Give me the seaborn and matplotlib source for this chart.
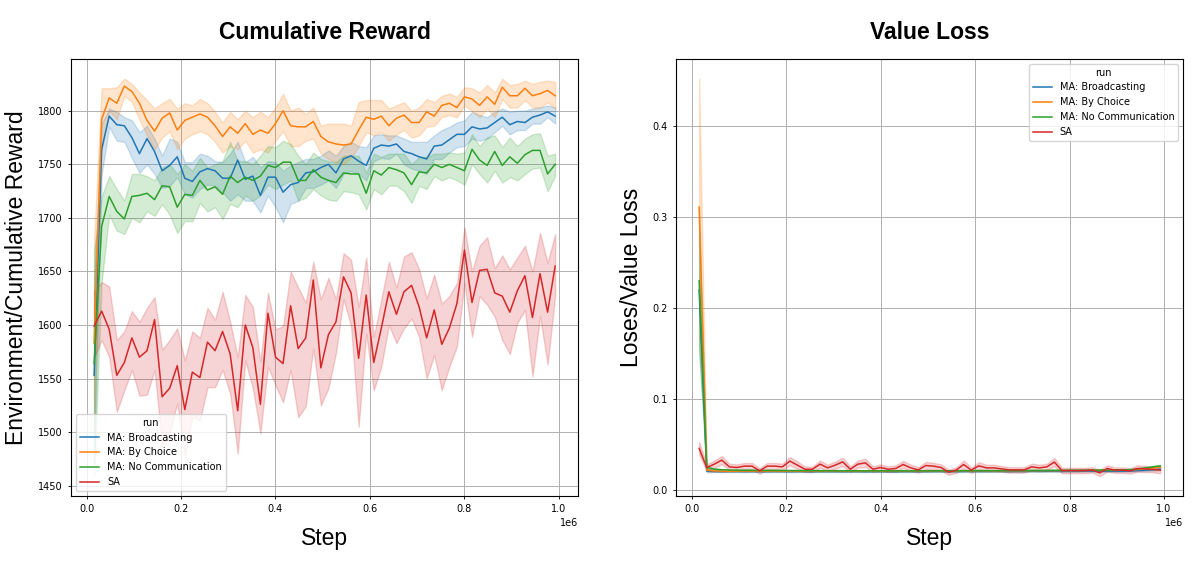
"""
Cumulative reward and value loss of the four runs,
mean line with its band, drawn with seaborn lineplot.
"""
# Import libraries
import numpy as np
import pandas as pd
import matplotlib
matplotlib.use('Agg')
import matplotlib.pyplot as plt
import seaborn as sns

# Training steps (one logged point every 16k steps)
steps = np.arange(16000, 992001, 16000)

runs = ['MA: Broadcasting', 'MA: By Choice', 'MA: No Communication', 'SA']

# ---------------- Cumulative reward: line, lower and upper band edge
bc_reward = [1553, 1764, 1795, 1787, 1786, 1775, 1760, 1774, 1762, 1744,
             1749, 1757, 1737, 1734, 1743, 1746, 1744, 1737, 1737, 1754,
             1736, 1739, 1721, 1738, 1738, 1724, 1731, 1733, 1742, 1743,
             1747, 1750, 1742, 1755, 1758, 1753, 1749, 1765, 1768, 1767,
             1769, 1762, 1760, 1757, 1755, 1767, 1768, 1773, 1778, 1778,
             1785, 1783, 1784, 1789, 1794, 1787, 1790, 1789, 1794, 1796,
             1799, 1795]
bc_reward_lo = [1470, 1741, 1785, 1772, 1771, 1756, 1742, 1750, 1741, 1728,
                1730, 1738, 1722, 1719, 1727, 1731, 1730, 1724, 1716, 1722,
                1716, 1716, 1705, 1721, 1710, 1696, 1713, 1716, 1728, 1728,
                1731, 1735, 1728, 1741, 1744, 1741, 1735, 1753, 1756, 1755,
                1760, 1750, 1746, 1744, 1741, 1755, 1755, 1761, 1766, 1767,
                1774, 1772, 1774, 1780, 1786, 1778, 1782, 1782, 1788, 1788,
                1794, 1788]
bc_reward_hi = [1640, 1788, 1802, 1799, 1794, 1791, 1780, 1786, 1774, 1758,
                1774, 1771, 1752, 1752, 1760, 1758, 1753, 1752, 1760, 1771,
                1752, 1757, 1747, 1753, 1752, 1744, 1749, 1752, 1755, 1755,
                1758, 1763, 1758, 1767, 1771, 1767, 1766, 1777, 1778, 1777,
                1777, 1774, 1771, 1771, 1771, 1777, 1782, 1785, 1789, 1791,
                1799, 1796, 1794, 1799, 1802, 1799, 1800, 1800, 1802, 1803,
                1805, 1803]

ch_reward = [1583, 1792, 1812, 1807, 1823, 1818, 1807, 1791, 1781, 1793,
             1798, 1782, 1791, 1794, 1797, 1794, 1786, 1776, 1785, 1779,
             1788, 1778, 1782, 1779, 1788, 1800, 1786, 1785, 1785, 1790,
             1776, 1771, 1769, 1768, 1769, 1782, 1794, 1792, 1795, 1786,
             1793, 1796, 1789, 1789, 1799, 1795, 1805, 1807, 1803, 1813,
             1811, 1805, 1813, 1806, 1822, 1814, 1814, 1821, 1814, 1816,
             1819, 1814]
ch_reward_lo = [1500, 1763, 1800, 1792, 1814, 1808, 1792, 1777, 1764, 1775,
                1781, 1764, 1774, 1778, 1781, 1778, 1771, 1761, 1767, 1764,
                1772, 1761, 1764, 1761, 1772, 1781, 1767, 1767, 1772, 1774,
                1760, 1755, 1752, 1750, 1756, 1767, 1780, 1777, 1780, 1772,
                1778, 1782, 1775, 1777, 1785, 1786, 1794, 1796, 1794, 1805,
                1800, 1794, 1802, 1794, 1811, 1803, 1803, 1810, 1803, 1803,
                1808, 1802]
ch_reward_hi = [1680, 1821, 1821, 1822, 1830, 1825, 1817, 1810, 1802, 1807,
                1811, 1802, 1807, 1805, 1811, 1807, 1799, 1789, 1799, 1792,
                1800, 1794, 1799, 1794, 1803, 1816, 1800, 1803, 1797, 1803,
                1786, 1788, 1788, 1788, 1786, 1808, 1810, 1810, 1810, 1802,
                1805, 1808, 1800, 1803, 1811, 1808, 1814, 1816, 1813, 1822,
                1821, 1817, 1824, 1817, 1830, 1824, 1825, 1828, 1825, 1827,
                1828, 1827]

nc_reward = [1564, 1692, 1720, 1706, 1699, 1720, 1721, 1723, 1717, 1730,
             1729, 1710, 1722, 1721, 1735, 1726, 1729, 1722, 1739, 1733,
             1738, 1735, 1739, 1749, 1747, 1752, 1752, 1735, 1735, 1745,
             1738, 1735, 1733, 1742, 1741, 1741, 1723, 1744, 1740, 1747,
             1745, 1742, 1731, 1743, 1742, 1750, 1747, 1750, 1747, 1744,
             1764, 1754, 1749, 1762, 1749, 1757, 1751, 1759, 1763, 1763,
             1741, 1750]
nc_reward_lo = [1459, 1640, 1703, 1688, 1685, 1700, 1696, 1706, 1702, 1713,
                1703, 1686, 1697, 1697, 1714, 1706, 1710, 1699, 1713, 1710,
                1721, 1716, 1721, 1731, 1727, 1731, 1735, 1716, 1719, 1727,
                1721, 1717, 1716, 1725, 1724, 1722, 1708, 1727, 1722, 1730,
                1730, 1725, 1714, 1730, 1727, 1739, 1735, 1738, 1735, 1731,
                1750, 1741, 1733, 1744, 1733, 1738, 1735, 1741, 1746, 1747,
                1725, 1739]
nc_reward_hi = [1670, 1720, 1739, 1727, 1716, 1741, 1741, 1739, 1735, 1747,
                1750, 1741, 1750, 1744, 1756, 1747, 1750, 1753, 1771, 1753,
                1753, 1750, 1758, 1767, 1766, 1772, 1769, 1758, 1750, 1761,
                1755, 1753, 1752, 1758, 1758, 1758, 1742, 1760, 1757, 1760,
                1760, 1760, 1750, 1757, 1757, 1760, 1760, 1761, 1760, 1761,
                1778, 1767, 1775, 1777, 1766, 1775, 1767, 1774, 1778, 1779,
                1758, 1760]

sa_reward = [1599, 1613, 1596, 1553, 1565, 1588, 1570, 1576, 1605, 1533,
             1541, 1562, 1521, 1556, 1551, 1584, 1576, 1594, 1573, 1520,
             1600, 1579, 1526, 1611, 1570, 1564, 1618, 1578, 1588, 1642,
             1560, 1591, 1603, 1645, 1630, 1569, 1628, 1565, 1597, 1631,
             1610, 1631, 1637, 1617, 1588, 1614, 1582, 1597, 1620, 1670,
             1621, 1651, 1652, 1630, 1627, 1612, 1632, 1646, 1607, 1648,
             1612, 1655]
sa_reward_lo = [1570, 1586, 1570, 1519, 1539, 1558, 1534, 1535, 1558, 1488,
                1499, 1527, 1477, 1514, 1511, 1542, 1542, 1558, 1536, 1480,
                1567, 1541, 1499, 1561, 1544, 1528, 1558, 1514, 1524, 1578,
                1525, 1541, 1574, 1624, 1599, 1505, 1592, 1539, 1561, 1600,
                1583, 1597, 1606, 1589, 1550, 1572, 1539, 1561, 1580, 1639,
                1589, 1627, 1619, 1608, 1586, 1573, 1602, 1614, 1552, 1608,
                1563, 1627]
sa_reward_hi = [1632, 1640, 1636, 1586, 1594, 1613, 1603, 1616, 1626, 1577,
                1586, 1597, 1567, 1594, 1588, 1616, 1605, 1631, 1603, 1570,
                1628, 1617, 1566, 1630, 1596, 1599, 1650, 1635, 1621, 1659,
                1624, 1644, 1624, 1667, 1661, 1617, 1663, 1589, 1624, 1659,
                1635, 1664, 1668, 1652, 1625, 1647, 1620, 1627, 1639, 1691,
                1650, 1674, 1682, 1653, 1665, 1652, 1663, 1674, 1650, 1686,
                1658, 1685]

# ---------------- Value loss: line and half width of the band
bc_loss = [0.220, 0.0210, 0.0205, 0.0204, 0.0205, 0.0205, 0.0204, 0.0205, 0.0205, 0.0204,
           0.0205, 0.0205, 0.0204, 0.0205, 0.0205, 0.0204, 0.0205, 0.0205, 0.0205, 0.0204,
           0.0205, 0.0205, 0.0204, 0.0205, 0.0205, 0.0205, 0.0204, 0.0205, 0.0205, 0.0205,
           0.0205, 0.0206, 0.0206, 0.0205, 0.0206, 0.0206, 0.0207, 0.0206, 0.0206, 0.0207,
           0.0207, 0.0206, 0.0207, 0.0207, 0.0208, 0.0207, 0.0208, 0.0208, 0.0207, 0.0208,
           0.0208, 0.0209, 0.0209, 0.0208, 0.0209, 0.0210, 0.0210, 0.0212, 0.0216, 0.0220,
           0.0225, 0.0230]
bc_loss_sd = [0.065, 0.0012, 0.0006, 0.0005, 0.0005, 0.0005, 0.0005, 0.0005, 0.0005, 0.0005,
              0.0005, 0.0005, 0.0005, 0.0005, 0.0005, 0.0005, 0.0005, 0.0005, 0.0005, 0.0005,
              0.0005, 0.0005, 0.0005, 0.0005, 0.0005, 0.0005, 0.0005, 0.0005, 0.0005, 0.0005,
              0.0005, 0.0005, 0.0005, 0.0005, 0.0005, 0.0005, 0.0005, 0.0005, 0.0005, 0.0005,
              0.0005, 0.0005, 0.0005, 0.0005, 0.0005, 0.0005, 0.0005, 0.0005, 0.0005, 0.0005,
              0.0005, 0.0005, 0.0005, 0.0006, 0.0006, 0.0006, 0.0007, 0.0007, 0.0008, 0.0008,
              0.0009, 0.0010]

ch_loss = [0.311, 0.0220, 0.0212, 0.0210, 0.0208, 0.0210, 0.0211, 0.0210, 0.0211, 0.0210,
           0.0211, 0.0210, 0.0211, 0.0210, 0.0211, 0.0212, 0.0211, 0.0211, 0.0212, 0.0211,
           0.0212, 0.0211, 0.0212, 0.0212, 0.0211, 0.0212, 0.0212, 0.0213, 0.0212, 0.0213,
           0.0212, 0.0213, 0.0213, 0.0212, 0.0213, 0.0214, 0.0213, 0.0214, 0.0214, 0.0213,
           0.0214, 0.0214, 0.0215, 0.0214, 0.0215, 0.0215, 0.0216, 0.0215, 0.0216, 0.0216,
           0.0217, 0.0217, 0.0218, 0.0218, 0.0219, 0.0219, 0.0220, 0.0222, 0.0228, 0.0235,
           0.0245, 0.0255]
ch_loss_sd = [0.141, 0.0015, 0.0008, 0.0006, 0.0006, 0.0005, 0.0005, 0.0005, 0.0005, 0.0005,
              0.0005, 0.0005, 0.0005, 0.0005, 0.0005, 0.0005, 0.0005, 0.0005, 0.0005, 0.0005,
              0.0005, 0.0005, 0.0005, 0.0005, 0.0005, 0.0005, 0.0005, 0.0005, 0.0005, 0.0005,
              0.0005, 0.0005, 0.0005, 0.0005, 0.0005, 0.0005, 0.0005, 0.0005, 0.0005, 0.0005,
              0.0005, 0.0005, 0.0005, 0.0005, 0.0005, 0.0005, 0.0005, 0.0005, 0.0005, 0.0005,
              0.0005, 0.0005, 0.0006, 0.0006, 0.0006, 0.0007, 0.0007, 0.0008, 0.0009, 0.0010,
              0.0011, 0.0012]

nc_loss = [0.230, 0.0250, 0.0232, 0.0225, 0.0222, 0.0221, 0.0220, 0.0219, 0.0219, 0.0218,
           0.0218, 0.0217, 0.0217, 0.0216, 0.0216, 0.0216, 0.0215, 0.0215, 0.0215, 0.0215,
           0.0215, 0.0214, 0.0214, 0.0214, 0.0214, 0.0214, 0.0214, 0.0214, 0.0214, 0.0214,
           0.0214, 0.0214, 0.0215, 0.0214, 0.0215, 0.0215, 0.0215, 0.0216, 0.0216, 0.0216,
           0.0216, 0.0217, 0.0217, 0.0217, 0.0218, 0.0218, 0.0218, 0.0219, 0.0219, 0.0220,
           0.0220, 0.0221, 0.0221, 0.0222, 0.0222, 0.0223, 0.0224, 0.0225, 0.0235, 0.0245,
           0.0257, 0.0268]
nc_loss_sd = [0.080, 0.0020, 0.0010, 0.0007, 0.0006, 0.0005, 0.0005, 0.0005, 0.0005, 0.0005,
              0.0005, 0.0005, 0.0005, 0.0005, 0.0005, 0.0005, 0.0005, 0.0005, 0.0005, 0.0005,
              0.0005, 0.0005, 0.0005, 0.0005, 0.0005, 0.0005, 0.0005, 0.0005, 0.0005, 0.0005,
              0.0005, 0.0005, 0.0005, 0.0005, 0.0005, 0.0005, 0.0005, 0.0005, 0.0005, 0.0005,
              0.0005, 0.0005, 0.0005, 0.0005, 0.0005, 0.0005, 0.0005, 0.0005, 0.0005, 0.0005,
              0.0005, 0.0005, 0.0006, 0.0006, 0.0006, 0.0007, 0.0007, 0.0008, 0.0009, 0.0010,
              0.0011, 0.0012]

sa_loss = [0.0460, 0.0250, 0.0287, 0.0331, 0.0257, 0.0250, 0.0265, 0.0265, 0.0213, 0.0265,
           0.0265, 0.0257, 0.0320, 0.0276, 0.0231, 0.0231, 0.0287, 0.0246, 0.0276, 0.0312,
           0.0231, 0.0287, 0.0301, 0.0231, 0.0250, 0.0231, 0.0239, 0.0283, 0.0246, 0.0224,
           0.0272, 0.0265, 0.0250, 0.0199, 0.0221, 0.0283, 0.0221, 0.0268, 0.0246, 0.0246,
           0.0235, 0.0224, 0.0224, 0.0224, 0.0257, 0.0246, 0.0257, 0.0309, 0.0217, 0.0217,
           0.0217, 0.0217, 0.0224, 0.0191, 0.0239, 0.0221, 0.0221, 0.0213, 0.0239, 0.0235,
           0.0228, 0.0221]
sa_loss_sd = [0.0070, 0.0035, 0.0040, 0.0045, 0.0035, 0.0035, 0.0035, 0.0035, 0.0030, 0.0035,
              0.0035, 0.0035, 0.0045, 0.0040, 0.0030, 0.0030, 0.0040, 0.0035, 0.0040, 0.0045,
              0.0030, 0.0040, 0.0045, 0.0030, 0.0035, 0.0030, 0.0035, 0.0040, 0.0035, 0.0030,
              0.0040, 0.0035, 0.0035, 0.0030, 0.0030, 0.0045, 0.0030, 0.0040, 0.0035, 0.0035,
              0.0030, 0.0030, 0.0030, 0.0030, 0.0035, 0.0035, 0.0035, 0.0045, 0.0030, 0.0030,
              0.0030, 0.0030, 0.0030, 0.0035, 0.0035, 0.0030, 0.0030, 0.0030, 0.0035, 0.0035,
              0.0030, 0.0035]

palette = ['#1f77b4', '#ff7f0e', '#2ca02c', '#d62728']


def long_form(series, name):
    """Three rows per step (low, line, high): the median gives the line,
    the full range of the three gives the band."""
    rows = []
    for run, (mid, lo, hi) in series.items():
        assert len(mid) == len(lo) == len(hi) == len(steps)
        for s, m, l, h in zip(steps, mid, lo, hi):
            for v in (l, m, h):
                rows.append((s, v, run))
    return pd.DataFrame(rows, columns=['Step', name, 'run'])


def with_sd(mid, sd):
    mid = np.array(mid)
    sd = np.array(sd)
    return mid, mid - sd, mid + sd


df_reward = long_form({
    runs[0]: (bc_reward, bc_reward_lo, bc_reward_hi),
    runs[1]: (ch_reward, ch_reward_lo, ch_reward_hi),
    runs[2]: (nc_reward, nc_reward_lo, nc_reward_hi),
    runs[3]: (sa_reward, sa_reward_lo, sa_reward_hi),
}, 'reward')

df_loss = long_form({
    runs[0]: with_sd(bc_loss, bc_loss_sd),
    runs[1]: with_sd(ch_loss, ch_loss_sd),
    runs[2]: with_sd(nc_loss, nc_loss_sd),
    runs[3]: with_sd(sa_loss, sa_loss_sd),
}, 'loss')

# Small ticks and legend, large titles
plt.rcParams.update({
    'xtick.labelsize': 7, 'ytick.labelsize': 7,
    'xtick.major.size': 2.5, 'ytick.major.size': 2.5,
    'xtick.major.width': 0.6, 'ytick.major.width': 0.6,
    'axes.linewidth': 0.8,
    'grid.linewidth': 0.7,
})

fig, (ax1, ax2) = plt.subplots(1, 2, figsize=(11.94, 5.76), dpi=100)
fig.subplots_adjust(left=0.0595, right=0.991, bottom=0.139, top=0.898, wspace=0.193)

big = dict(fontsize=16.5, family='Liberation Sans')

for ax, df, col, title, ylabel, loc in [
        (ax1, df_reward, 'reward', 'Cumulative Reward', 'Environment/Cumulative Reward', 'lower left'),
        (ax2, df_loss, 'loss', 'Value Loss', 'Loses/Value Loss', 'upper right')]:
    sns.lineplot(data=df, x='Step', y=col, hue='run', hue_order=runs,
                 palette=palette, estimator='median', errorbar=('pi', 100),
                 linewidth=1.1, ax=ax)
    ax.grid(True)
    ax.set_axisbelow(True)
    ax.set_title(title, fontweight='bold', pad=14, **big)
    ax.set_xlabel('Step', labelpad=9, **big)
    ax.set_ylabel(ylabel, labelpad=7, **big)
    ax.xaxis.get_offset_text().set_fontsize(7)
    sns.move_legend(ax, loc, title='run', fontsize=7, title_fontsize=7)

plt.savefig('out.png', dpi=100)
